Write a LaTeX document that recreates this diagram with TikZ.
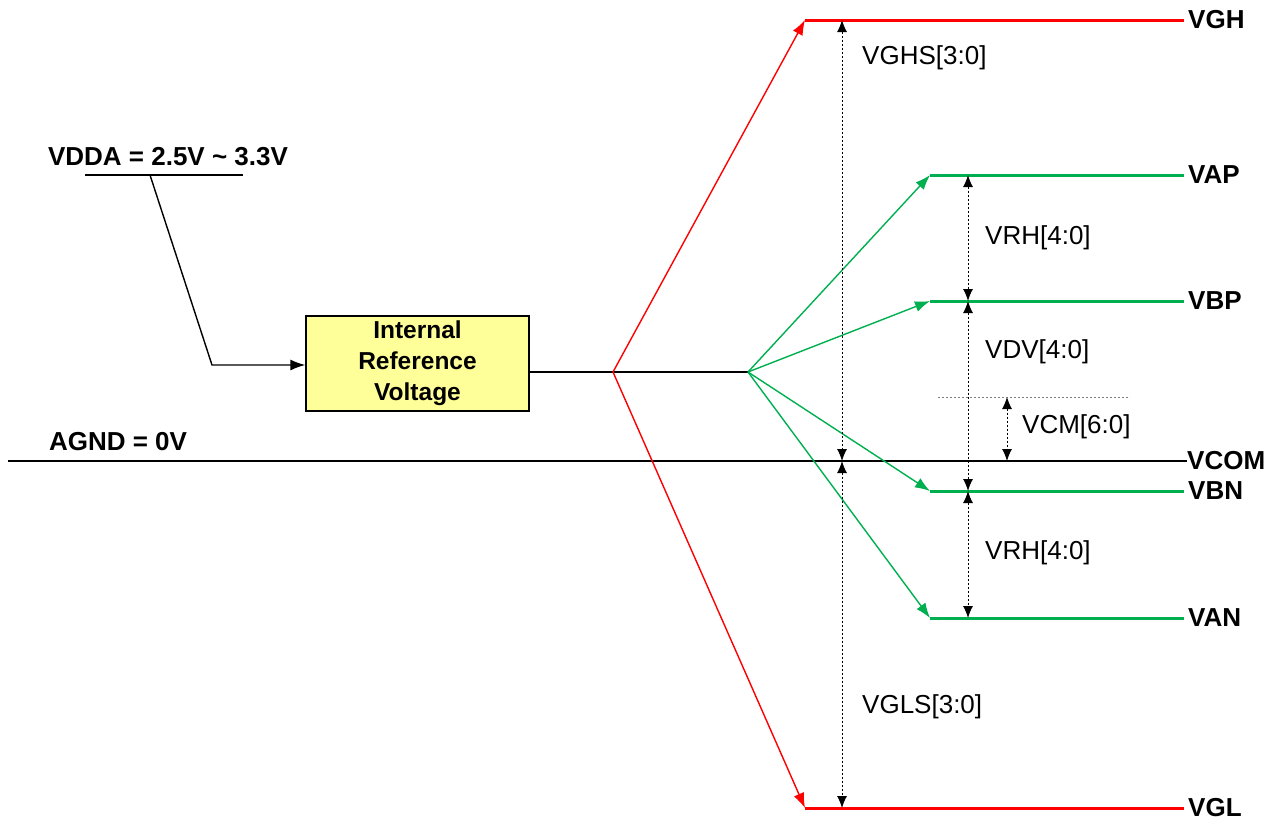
\documentclass[tikz,border=0pt]{standalone}
\usepackage{fontspec}
\setmainfont{Liberation Sans}
\usepackage{xcolor}
\usetikzlibrary{positioning, calc, arrows.meta}
\definecolor{railred}{RGB}{255, 0, 0}
\definecolor{railgreen}{RGB}{0, 176, 80}
\definecolor{boxyellow}{RGB}{255, 255, 153}

\begin{document}
\begin{tikzpicture}[x=1pt, y=-1pt,
    arr/.tip={Latex[length=15pt, width=11pt]},
    darr/.tip={Latex[length=12pt, width=10pt]},
    lbl/.style={font=\fontsize{26}{30}\selectfont\bfseries, inner sep=0pt},
    dimlbl/.style={font=\fontsize{26}{30}\selectfont, inner sep=0pt, anchor=west},
    railend/.style={lbl, anchor=west},
    wire/.style={line width=1.4pt},
    redrail/.style={line width=3pt, railred},
    greenrail/.style={line width=3pt, railgreen},
    dimarrow/.style={darr-darr, line width=1pt, dash pattern=on 2pt off 2pt}]
    \useasboundingbox (0,0) rectangle (1282,823);

    % Nodes
    \node[draw, line width=1.3pt, fill=boxyellow, minimum width=223pt, minimum height=95pt,
          align=center, font=\fontsize{24.5}{31}\selectfont\bfseries] (ref) at (417.5,363.5) {Internal\\Reference\\Voltage};
    \node[lbl] (vdda) at (168,157) {VDDA = 2.5V \char`\~{} 3.3V};
    \node[lbl] (agnd) at (118,442) {AGND = 0V};
    \node[railend] (vgh) at (1188,20) {VGH};
    \node[railend] (vap) at (1188,175) {VAP};
    \node[railend] (vbp) at (1188,301) {VBP};
    \node[railend] (vcom) at (1187,461) {VCOM};
    \node[railend] (vbn) at (1188,491) {VBN};
    \node[railend] (van) at (1188,618) {VAN};
    \node[railend] (vgl) at (1188,808) {VGL};

    \coordinate (vddaL) at (85,175);
    \coordinate (vddaR) at (243,175);
    \coordinate (vddaT) at (150,175);
    \coordinate (bend) at (212,365);
    \coordinate (split) at (613,372);
    \coordinate (fan) at (748,372);
    \coordinate (gndL) at (8,461);
    \coordinate (ghL) at (805,20);
    \coordinate (glL) at (805,808);
    \coordinate (apL) at (930,175);
    \coordinate (bpL) at (930,301);
    \coordinate (bnL) at (930,491);
    \coordinate (anL) at (930,618);
    \coordinate (gdim) at (842,0);
    \coordinate (rdim) at (968,0);
    \coordinate (cdim) at (1007,0);
    \coordinate (cmL) at (938,397);
    \coordinate (cmR) at (1130,397);

    % Input and ground
    \draw[wire] (vddaL) -- (vddaR);
    \draw[wire, -arr] (vddaT) -- (bend) -- (ref.west |- bend);
    \draw[wire] (gndL) -- (vcom.west);
    \draw[wire] (ref.east |- split) -- (fan);

    % Rails
    \draw[wire, railred, -arr] (split) -- (ghL);
    \draw[wire, railred, -arr] (split) -- (glL);
    \draw[redrail] (ghL) -- ($(vgh.west)+(-4,0)$);
    \draw[redrail] (glL) -- ($(vgl.west)+(-4,0)$);
    \foreach \p/\n in {apL/vap, bpL/vbp, bnL/vbn, anL/van} {
        \draw[wire, railgreen, -arr] (fan) -- (\p);
        \draw[greenrail] (\p) -- ($(\n.west)+(-4,0)$);
    }

    % Dimensions
    \draw[dimarrow] (gdim |- ghL) -- (gdim |- gndL);
    \draw[dimarrow] (gdim |- gndL) -- (gdim |- glL);
    \draw[dimarrow] (rdim |- apL) -- (rdim |- bpL);
    \draw[dimarrow] (rdim |- bpL) -- (rdim |- bnL);
    \draw[dimarrow] (rdim |- bnL) -- (rdim |- anL);
    \draw[line width=1pt, gray, dash pattern=on 2pt off 2pt] (cmL) -- (cmR);
    \draw[dimarrow] (cdim |- cmL) -- (cdim |- gndL);

    \node[dimlbl] (ghs) at (862,58) {VGHS[3:0]};
    \node[dimlbl] (rhp) at (985,238) {VRH[4:0]};
    \node[dimlbl] (dv) at (985,352) {VDV[4:0]};
    \node[dimlbl] (cm) at (1022,427) {VCM[6:0]};
    \node[dimlbl] (rhn) at (985,553) {VRH[4:0]};
    \node[dimlbl] (gls) at (862,707) {VGLS[3:0]};
\end{tikzpicture}
\end{document}
